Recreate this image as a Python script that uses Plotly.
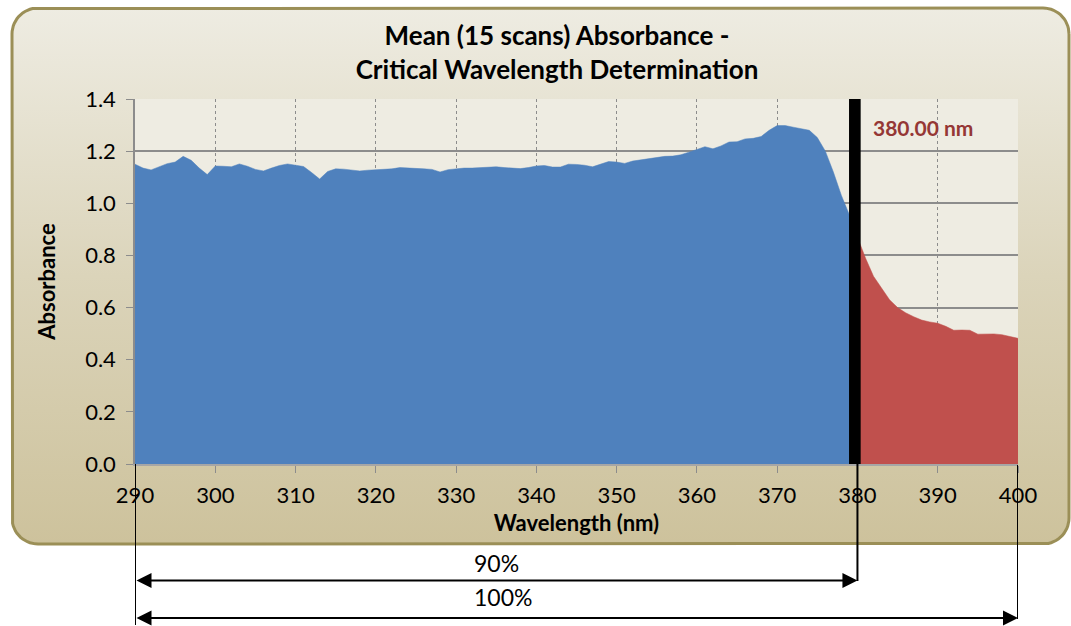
import numpy as np
import plotly.graph_objects as go

# ---------------- data ----------------
wavelength = list(range(290, 401))
absorbance = [
    1.150, 1.135, 1.128, 1.140, 1.152, 1.158, 1.180, 1.165, 1.135, 1.110,  # 290-299
    1.143, 1.142, 1.140, 1.151, 1.142, 1.130, 1.124, 1.135, 1.145, 1.151,  # 300-309
    1.147, 1.141, 1.118, 1.093, 1.122, 1.132, 1.131, 1.127, 1.124, 1.127,  # 310-319
    1.128, 1.129, 1.132, 1.137, 1.136, 1.134, 1.132, 1.130, 1.120, 1.129,  # 320-329
    1.133, 1.135, 1.135, 1.136, 1.138, 1.140, 1.137, 1.134, 1.133, 1.137,  # 330-339
    1.143, 1.145, 1.139, 1.139, 1.150, 1.149, 1.146, 1.140, 1.150, 1.160,  # 340-349
    1.158, 1.153, 1.162, 1.167, 1.170, 1.176, 1.180, 1.181, 1.186, 1.196,  # 350-359
    1.208, 1.217, 1.209, 1.220, 1.235, 1.236, 1.247, 1.249, 1.256, 1.280,  # 360-369
    1.298, 1.298, 1.292, 1.286, 1.280, 1.252, 1.200, 1.120, 1.030, 0.955,  # 370-379
    0.870, 0.790, 0.720, 0.675, 0.630, 0.600, 0.580, 0.565, 0.552, 0.545,  # 380-389
    0.540, 0.528, 0.513, 0.514, 0.513, 0.498, 0.498, 0.499, 0.496, 0.490,  # 390-399
    0.482,                                                                 # 400
]
critical_wavelength = 380.0
x_ticks = list(range(290, 401, 10))
y_ticks = [0.0, 0.2, 0.4, 0.6, 0.8, 1.0, 1.2, 1.4]
title_text = "Mean (15 scans) Absorbance -<br>Critical Wavelength Determination"
x_title = "Wavelength (nm)"
y_title = "Absorbance"
critical_label = "380.00 nm"
range_labels = ["90%", "100%"]

# ---------------- layout geometry ----------------
W, H = 1071, 626
PL, PR, PT, PB = 135, 1018, 99, 464        # plot area in pixels
FONT = "Lato"
BLUE, RED = "#4F81BD", "#C0504D"
GRID = "#8C8C8C"


def py(v):
    """pixel row (from top) -> background-axis y (from bottom)"""
    return H - v


def rounded_rect(x0, y0, x1, y1, r, n=16):
    xs, ys = [], []
    corners = [
        (x1 - r, y1 - r, 0, 90),
        (x0 + r, y1 - r, 90, 180),
        (x0 + r, y0 + r, 180, 270),
        (x1 - r, y0 + r, 270, 360),
    ]
    for cx, cy, a0, a1 in corners:
        t = np.radians(np.linspace(a0, a1, n))
        xs += list(cx + r * np.cos(t))
        ys += list(cy + r * np.sin(t))
    xs.append(xs[0])
    ys.append(ys[0])
    return xs, ys


fig = go.Figure()

# frame with vertical gradient (background subplot in pixel units)
fx, fy = rounded_rect(12, py(544), 1069, py(8), 26)
fig.add_trace(go.Scatter(
    x=fx, y=fy, mode="lines", fill="toself",
    line=dict(color="#9B8F57", width=3),
    fillgradient=dict(type="vertical",
                      colorscale=[[0, "#CDC29C"], [0.5, "#DBD4BA"], [1, "#EEECE2"]]),
    hoverinfo="skip", showlegend=False, xaxis="x", yaxis="y",
))
# plot-area background
fig.add_trace(go.Scatter(
    x=[PL, PR, PR, PL, PL], y=[py(PB), py(PB), py(PT), py(PT), py(PB)],
    mode="lines", fill="toself", fillcolor="#EEECE2",
    line=dict(width=0), hoverinfo="skip", showlegend=False,
    xaxis="x", yaxis="y",
))

# data split at the critical wavelength
wl = np.array(wavelength, dtype=float)
ab = np.array(absorbance)
left = wl <= critical_wavelength
right = wl >= critical_wavelength
fig.add_trace(go.Scatter(
    x=wl[left], y=ab[left], mode="lines", fill="tozeroy",
    fillcolor=BLUE, line=dict(color=BLUE, width=0.5),
    showlegend=False, xaxis="x2", yaxis="y2",
))
fig.add_trace(go.Scatter(
    x=wl[right], y=ab[right], mode="lines", fill="tozeroy",
    fillcolor=RED, line=dict(color=RED, width=0.5),
    showlegend=False, xaxis="x2", yaxis="y2",
))

# black marker bar at the critical wavelength
fig.add_shape(type="rect", xref="x2", yref="y2",
              x0=critical_wavelength - 1.05, x1=critical_wavelength + 0.4,
              y0=0, y1=1.4, fillcolor="black", line=dict(width=0), layer="above")

# vertical guide lines below the chart
x_lo, x_hi = wavelength[0], wavelength[-1]
for xv, y_from, y_to in [(x_lo, PB, 625), (critical_wavelength, PB, 581), (x_hi, PB + 1, 619)]:
    fig.add_shape(type="line", xref="x2", yref="y", x0=xv, x1=xv,
                  y0=py(y_from), y1=py(y_to), line=dict(color="black", width=2))

# double-headed range arrows
for x_end, yrow in [(critical_wavelength, 580.5), (x_hi, 618)]:
    fig.add_annotation(
        x=x_end, y=py(yrow), xref="x2", yref="y",
        ax=x_lo, ay=py(yrow), axref="x2", ayref="y",
        text="", showarrow=True, arrowside="end+start",
        arrowhead=2, startarrowhead=2, arrowsize=1.5, startarrowsize=1.5,
        arrowwidth=2, arrowcolor="black", standoff=0, startstandoff=0,
    )
for label, yrow in zip(range_labels, [563, 597]):
    fig.add_annotation(
        x=472, y=py(yrow), xref="x", yref="y", xanchor="left", yanchor="middle",
        text=label, showarrow=False, font=dict(family=FONT, size=23, color="black"),
    )

# critical wavelength label
fig.add_annotation(
    x=871, y=py(127), xref="x", yref="y", xanchor="left", yanchor="middle",
    text=f"<b>{critical_label}</b>", showarrow=False,
    font=dict(family=FONT, size=21, color="#953735"),
)

fig.update_layout(
    width=W, height=H,
    margin=dict(l=0, r=0, t=0, b=0, autoexpand=False),
    paper_bgcolor="white", plot_bgcolor="rgba(0,0,0,0)",
    showlegend=False,
    title=dict(text=f"<b>{title_text}</b>", x=557 / W, xanchor="center",
               y=1 - 45 / H, yanchor="middle", automargin=False,
               font=dict(family=FONT, size=26, color="black")),
    xaxis=dict(domain=[0, 1], range=[0, W], visible=False, fixedrange=True),
    yaxis=dict(domain=[0, 1], range=[0, H], visible=False, fixedrange=True),
    xaxis2=dict(
        domain=[PL / W, PR / W], anchor="y2", range=[290, 400],
        tickvals=x_ticks, ticktext=[str(v) for v in x_ticks],
        showgrid=True, gridcolor=GRID, gridwidth=1, griddash="dot",
        showline=True, linecolor="#A6A6A6", linewidth=1.5,
        ticks="outside", ticklen=7, tickcolor=GRID, tickwidth=1,
        ticklabelstandoff=4, automargin=False,
        tickfont=dict(family=FONT, size=22, color="black"),
        title=dict(text=f"<b>{x_title}</b>", standoff=8,
                   font=dict(family=FONT, size=22, color="black")),
        zeroline=False,
    ),
    yaxis2=dict(
        domain=[(H - PB) / H, (H - PT) / H], anchor="x2", range=[0, 1.4],
        tickvals=y_ticks, ticktext=[f"{v:.1f}" for v in y_ticks],
        showgrid=True, gridcolor=GRID, gridwidth=1.5,
        showline=True, linecolor=GRID, linewidth=1.5,
        ticks="outside", ticklen=7, tickcolor=GRID, tickwidth=1,
        ticklabelstandoff=6, automargin=False,
        tickfont=dict(family=FONT, size=22, color="black"),
        title=dict(text=f"<b>{y_title}</b>", standoff=23,
                   font=dict(family=FONT, size=22, color="black")),
        zeroline=False,
    ),
)

fig.write_html("out.html", config={"displayModeBar": False},
               post_script="document.body.style.margin='0';")
